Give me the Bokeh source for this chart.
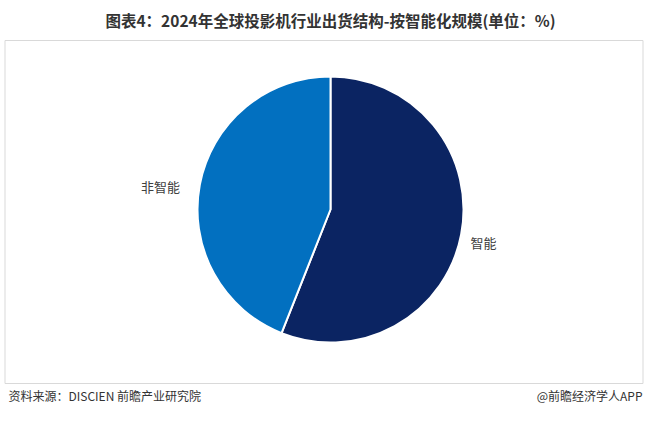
import numpy as np
from bokeh.plotting import figure
from bokeh.models import Range1d, ColumnDataSource
from bokeh.core.properties import value
from bokeh.embed import file_html
from bokeh.resources import INLINE

categories = ["智能", "非智能"]
shares = [56, 44]
colors = ["#0B2462", "#0270C0"]
title = "图表4：2024年全球投影机行业出货结构-按智能化规模(单位：%)"
source_note = "资料来源：DISCIEN 前瞻产业研究院"
brand_note = "@前瞻经济学人APP"

W, H = 644, 405
p = figure(width=W, height=H, output_backend="svg", toolbar_location=None,
           x_range=Range1d(0, W), y_range=Range1d(0, H), min_border=0)
p.axis.visible = False
p.grid.visible = False
p.outline_line_color = None
p.background_fill_color = "white"
p.border_fill_color = "white"

def fy(ref_y):
    return H - ref_y

def fx(ref_x):
    return ref_x

# frame
p.quad(left=[fx(4.5)], right=[W - 1.5], bottom=[fy(383)], top=[fy(40)],
       fill_color=None, line_color="#D9D9D9", line_width=1)

# pie
cx, cy, r = fx(330), fy(209), 133
fr = np.array(shares, dtype=float) / sum(shares)
ends = np.pi / 2 - 2 * np.pi * np.cumsum(fr)
starts = np.concatenate([[np.pi / 2], ends[:-1]])
src = ColumnDataSource(dict(start=starts, end=ends, color=colors, cat=categories))
p.wedge(x=cx, y=cy, radius=r, start_angle="start", end_angle="end",
        direction="clock", fill_color="color", line_color="white", line_width=2,
        source=src)

# labels
lab_x = [fx(483), fx(160)]
lab_y = [fy(242), fy(186)]
p.text(x=lab_x, y=lab_y, text=categories, text_font=value("Noto Sans CJK SC"),
       text_font_size="13px", text_color="#404040", text_align="center",
       text_baseline="middle")

# title
p.text(x=[fx(330)], y=[fy(19)], text=[title], text_font=value("Noto Sans CJK SC"),
       text_font_size="15.5px", text_font_style="bold", text_color="#333333",
       text_align="center", text_baseline="middle")

# footer
p.text(x=[fx(8)], y=[fy(395)], text=[source_note], text_font=value("Noto Sans CJK SC"),
       text_font_size="12px", text_color="#333333", text_align="left",
       text_baseline="middle")
p.text(x=[W - 2], y=[fy(395)], text=[brand_note], text_font=value("Noto Sans CJK SC"),
       text_font_size="12px", text_color="#333333", text_align="right",
       text_baseline="middle")

open("out.html", "w").write(file_html(p, INLINE))
